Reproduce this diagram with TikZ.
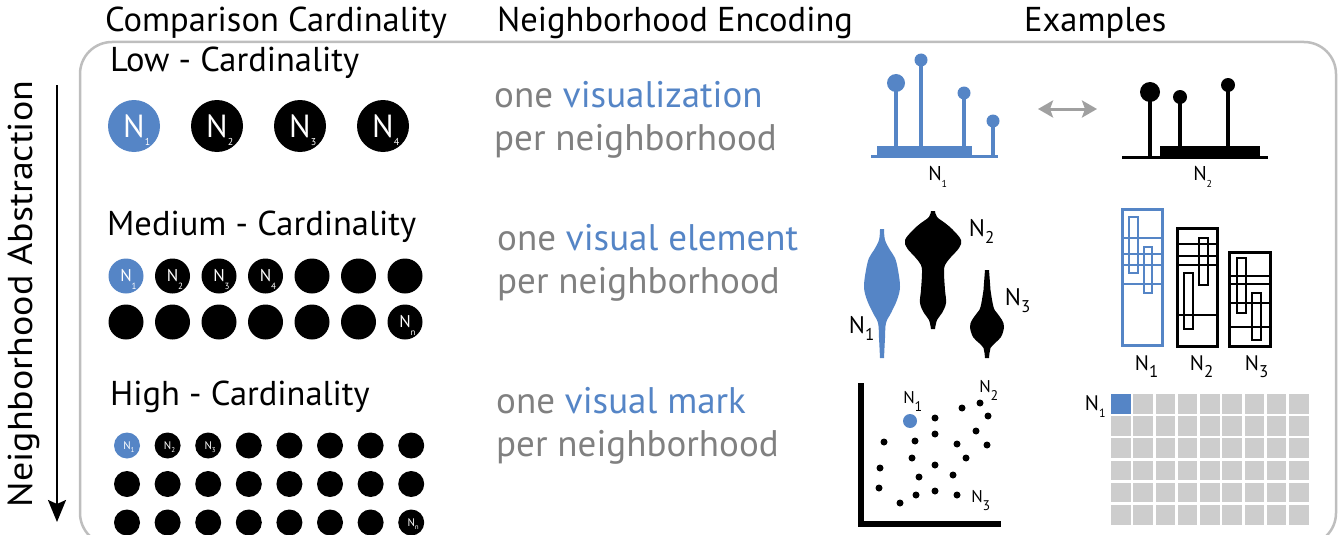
\documentclass[tikz,border=0pt]{standalone}
\usepackage{fontspec}
\setmainfont{PT Sans}
\usetikzlibrary{arrows.meta}
\definecolor{nblue}{RGB}{85,133,198}
\definecolor{tgray}{RGB}{128,128,128}
\definecolor{fgray}{RGB}{190,190,190}
\definecolor{cgray}{RGB}{205,205,205}
\definecolor{agray}{RGB}{160,160,160}
\newcommand{\fs}[1]{\fontsize{#1}{#1}\selectfont}
\newcommand{\Nsb}[4]{{\fs{#1}N}\rlap{\smash{\raisebox{-#3pt}{\fs{#2}#4}}}}
\begin{document}
\begin{tikzpicture}[x=1pt,y=-1pt,
  hdr/.style={font=\fs{34.5}, anchor=base west, inner sep=0pt},
  enc/.style={font=\fs{37}, text=tgray, anchor=base west, inner sep=0pt},
  lowdot/.style={circle, fill=#1, inner sep=0pt, minimum size=52pt, text=white},
  lowdot/.default=black,
  meddot/.style={circle, fill=#1, inner sep=0pt, minimum size=35pt, text=white},
  meddot/.default=black,
  higdot/.style={circle, fill=#1, inner sep=0pt, minimum size=26pt, text=white},
  higdot/.default=black,
  lab/.style={inner sep=0pt},
  stem/.style={line width=3.5pt},
  boxo/.style={line width=3pt},
  boxi/.style={line width=1.5pt},
  sdot/.style={fill=black},
]
\useasboundingbox (0,0) rectangle (1341,535);

% frame
\draw[fgray, line width=2.5pt, rounded corners=32pt] (80,42) rectangle (1336,545);

% headers
\node[hdr] (h1) at (105,32) {Comparison Cardinality};
\node[hdr] (h2) at (497,32) {Neighborhood Encoding};
\node[hdr] (h3) at (1024,32) {Examples};

% vertical axis
\node[rotate=90, font=\fs{34.5}, inner sep=0pt] (abst) at (24,294) {\scalebox{1.1}[1]{Neighborhood Abstraction}};
\coordinate (at) at (57,85);
\coordinate (ab) at (57,522);
\draw[line width=2pt, -{Stealth[length=22pt,width=18pt,inset=4pt]}] (at) -- (ab);

% row titles
\node[hdr] (t1) at (110,72) {Low - Cardinality};
\node[hdr] (t2) at (107,235) {Medium - Cardinality};
\node[hdr] (t3) at (110,405) {High - Cardinality};

% low cardinality
\node[lowdot=nblue] (l1) at (134,126) {\Nsb{32}{10}{8}{1}};
\node[lowdot] (l2) at (217,126) {\Nsb{32}{10}{8}{2}};
\node[lowdot] (l3) at (300,126) {\Nsb{32}{10}{8}{3}};
\node[lowdot] (l4) at (383,126) {\Nsb{32}{10}{8}{4}};

% medium cardinality
\node[meddot=nblue] (m1) at (126,276) {\Nsb{17}{9}{8}{1}};
\node[meddot] (m2) at (172.5,276) {\Nsb{17}{9}{8}{2}};
\node[meddot] (m3) at (219,276) {\Nsb{17}{9}{8}{3}};
\node[meddot] (m4) at (265.5,276) {\Nsb{17}{9}{8}{4}};
\node[meddot] (m5) at (312,276) {};
\node[meddot] (m6) at (358.5,276) {};
\node[meddot] (m7) at (405,276) {};
\foreach \i in {1,...,6} \node[meddot] (mb\i) at ({126+46.5*(\i-1)},322) {};
\node[meddot] (mb7) at (405,322) {\Nsb{17}{9}{8}{n}};

% high cardinality
\node[higdot=nblue] (a1) at (127,445.5) {\Nsb{11}{7}{3}{1}};
\node[higdot] (a2) at (167.6,445.5) {\Nsb{11}{7}{3}{2}};
\node[higdot] (a3) at (208.2,445.5) {\Nsb{11}{7}{3}{3}};
\foreach \i in {4,...,8} \node[higdot] (a\i) at ({127+40.6*(\i-1)},445.5) {};
\foreach \i in {1,...,8} \node[higdot] (b\i) at ({127+40.6*(\i-1)},484) {};
\foreach \i in {1,...,7} \node[higdot] (c\i) at ({127+40.6*(\i-1)},522.5) {};
\node[higdot] (c8) at (411.2,522.5) {\Nsb{11}{7}{3}{n}};

% encoding texts
\node[enc] (e1a) at (494,107) {one \textcolor{nblue}{visualization}};
\node[enc] (e1b) at (494,150) {per neighborhood};
\node[enc] (e2a) at (497,250) {one \textcolor{nblue}{visual element}};
\node[enc] (e2b) at (497,293) {per neighborhood};
\node[enc] (e3a) at (496,413) {one \textcolor{nblue}{visual mark}};
\node[enc] (e3b) at (496,456) {per neighborhood};

% lollipop charts
\fill[nblue] (877,146) rectangle (972,157);
\draw[nblue, line width=3pt] (871,156.5) -- (998,156.5);
\draw[nblue, stem] (896,157) -- (896,83);
\draw[nblue, stem] (921,157) -- (921,60);
\draw[nblue, stem] (964,157) -- (964,93);
\draw[nblue, stem] (993,157) -- (993,121);
\fill[nblue] (896,83) circle[radius=9pt];
\fill[nblue] (921,60) circle[radius=6.5pt];
\fill[nblue] (964,93) circle[radius=6.5pt];
\fill[nblue] (993,121) circle[radius=6.5pt];
\node[lab] (lp1) at (935,173) {\Nsb{20}{10}{7}{1}};

\fill[black] (1160,146) rectangle (1260,158);
\draw[line width=3pt] (1122,157.5) -- (1268,157.5);
\draw[stem] (1150,158) -- (1150,92);
\draw[stem] (1180,158) -- (1180,97);
\draw[stem] (1228,158) -- (1228,85);
\fill (1150,92) circle[radius=10pt];
\fill (1180,97) circle[radius=7pt];
\fill (1228,85) circle[radius=7pt];
\node[lab] (lp2) at (1200,173) {\Nsb{20}{10}{7}{2}};

\coordinate (la) at (1038,109);
\coordinate (ra) at (1097,109);
\draw[agray, line width=3pt, {Stealth[length=15pt,width=17pt,inset=3pt]}-{Stealth[length=15pt,width=17pt,inset=3pt]}] (la) -- (ra);

% violins
\fill[nblue] plot[smooth, tension=0.6] coordinates {(884,229) (885,240) (890,250) (895,258) (898,270) (900,287) (897,300) (891,313) (886,323) (885,338) (884,358)}
  -- plot[smooth, tension=0.6] coordinates {(880,358) (879,338) (878,323) (873,313) (867,300) (864,287) (866,270) (869,258) (874,250) (879,240) (880,229)} -- cycle;
\fill[black] plot[smooth, tension=0.6] coordinates {(935,211) (937,217) (945,223) (953,230) (961,240) (959,248) (951,257) (945,265) (944,273) (945,290) (946,303) (942,313) (937,320) (935,329)}
  -- plot[smooth, tension=0.6] coordinates {(931,329) (929,320) (924,313) (920,303) (921,290) (922,273) (921,265) (915,257) (907,248) (905,240) (913,230) (921,223) (929,217) (931,211)} -- cycle;
\fill[black] plot[smooth, tension=0.6] coordinates {(989,270) (990,283) (990.5,290) (993.5,307) (997,313) (1002,320) (1004,327) (1001,337) (995,343) (990.5,348) (989.5,353) (989,358)}
  -- plot[smooth, tension=0.6] coordinates {(985,358) (984.5,353) (983.5,348) (979,343) (973,337) (970,327) (972,320) (977,313) (980.5,307) (983.5,290) (984,283) (985,270)} -- cycle;
\node[lab] (v1) at (857,325) {\Nsb{24}{17}{7}{1}};
\node[lab] (v2) at (977,228) {\Nsb{24}{17}{7}{2}};
\node[lab] (v3) at (1013,297) {\Nsb{24}{17}{7}{3}};

% matrix boxes
\begin{scope}[nblue]
\draw[boxi] (1122,238) -- (1162,238) (1122,254) -- (1162,254) (1122,265) -- (1162,265) (1122,284) -- (1162,284);
\draw[boxi] (1129,217) rectangle (1138,273);
\draw[boxi] (1144,247) rectangle (1152,293);
\draw[boxo] (1122,209) rectangle (1162,345);
\end{scope}
\draw[boxi] (1177,244) -- (1217,244) (1177,256) -- (1217,256) (1177,265) -- (1217,265) (1177,315) -- (1217,315);
\draw[boxi] (1199,238) rectangle (1208,285);
\draw[boxi] (1184,273) rectangle (1193,329);
\draw[boxo] (1177,228) rectangle (1217,346);
\draw[boxi] (1229,276) -- (1270,276) (1229,284) -- (1270,284) (1229,303) -- (1270,303) (1229,327) -- (1270,327);
\draw[boxi] (1237,258) rectangle (1246,313);
\draw[boxi] (1252,293) rectangle (1261,340);
\draw[boxo] (1229,252) rectangle (1270,346);
\node[lab] (b1l) at (1142,363) {\Nsb{21}{17}{7}{1}};
\node[lab] (b2l) at (1197,363) {\Nsb{21}{17}{7}{2}};
\node[lab] (b3l) at (1252,363) {\Nsb{21}{17}{7}{3}};

% scatter plot
\draw[line width=6.5pt] (861,383) -- (861,524) -- (1001,524);
\foreach \p in {(962,408),(980,403),(988,416),(935,418),(976,431),(935,434),(884,442),(915,441),(957,444),(987,445),(912,458),(966,458),(880,468),(935,465),(919,477),(953,475),(879,488),(935,491),(916,495),(957,495),(900,503)}
  \fill[sdot] \p circle[radius=3.5pt];
\fill[nblue] (910,421) circle[radius=7pt];
\node[lab] (s1) at (909,398) {\Nsb{17}{14}{8}{1}};
\node[lab] (s2) at (985,387) {\Nsb{17}{14}{8}{2}};
\node[lab] (s3) at (977,497) {\Nsb{17}{14}{8}{3}};

% grid
\foreach \i in {0,...,8} \foreach \j in {0,...,5}
  \fill[cgray] ({1111+22.25*\i},{394+22.2*\j}) rectangle +(19.5,19.5);
\fill[nblue] (1111,394) rectangle +(19.5,19.5);
\node[lab] (g1) at (1092,403) {\Nsb{21}{12}{7}{1}};
\end{tikzpicture}
\end{document}
